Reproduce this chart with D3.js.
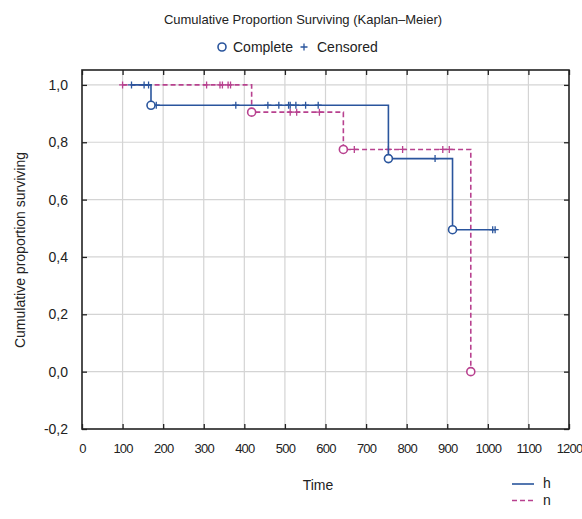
<!DOCTYPE html>
<html>
<head>
<meta charset="utf-8">
<script src="https://cdn.jsdelivr.net/npm/d3@7"></script>
<style>
  body { margin: 0; background: #fff; }
  svg { font-family: "Liberation Sans", Arial, sans-serif; }
</style>
</head>
<body>
<div id="chart"></div>
<script>
// group h (solid blue)
var hStart = 120;
var hEventTimes = [170, 755, 913];
var hEventSurv = [0.929, 0.743, 0.495];
var hCensorTimes = [122, 153, 164, 183, 379, 458, 485, 509, 513, 527, 551, 582, 870, 1012, 1018];

// group n (dashed magenta)
var nStart = 100;
var nEventTimes = [418, 644, 958];
var nEventSurv = [0.905, 0.775, 0.0];
var nCensorTimes = [100, 307, 340, 346, 360, 366, 513, 529, 585, 671, 755, 790, 889, 905];

var xTicks = [0, 100, 200, 300, 400, 500, 600, 700, 800, 900, 1000, 1100, 1200];
var yTicks = [-0.2, 0.0, 0.2, 0.4, 0.6, 0.8, 1.0];
var groupNames = ["h", "n"];
var blue = "#2a559d";
var pink = "#b8418f";

var width = 582, height = 519;
var margin = {top: 70, right: 13, bottom: 90, left: 82};

var svg = d3.select("#chart").append("svg")
    .attr("width", width)
    .attr("height", height);

var xScale = d3.scaleLinear()
    .domain([0, 1200])
    .range([margin.left, width - margin.right]);

var yScale = d3.scaleLinear()
    .domain([-0.2, 1.052])
    .range([height - margin.bottom, margin.top]);

var fmt = function(v) { return d3.format(".1f")(v).replace(".", ",").replace("−", "-"); };

// grid
svg.append("g")
    .selectAll("line")
    .data(xTicks.slice(1, -1))
    .enter().append("line")
    .attr("x1", d => xScale(d)).attr("x2", d => xScale(d))
    .attr("y1", margin.top).attr("y2", height - margin.bottom)
    .attr("stroke", "#d4d4d4").attr("stroke-width", 1.2);

svg.append("g")
    .selectAll("line")
    .data(yTicks.slice(1))
    .enter().append("line")
    .attr("x1", margin.left).attr("x2", width - margin.right)
    .attr("y1", d => yScale(d)).attr("y2", d => yScale(d))
    .attr("stroke", "#d4d4d4").attr("stroke-width", 1.2);

// axes (ticks pointing inward)
var xAxis = d3.axisBottom(xScale).tickValues(xTicks).tickSize(-5).tickPadding(15).tickFormat(d3.format("d"));
var yAxis = d3.axisLeft(yScale).tickValues(yTicks).tickSize(-5).tickPadding(14).tickFormat(fmt);

var gx = svg.append("g")
    .attr("transform", "translate(0," + (height - margin.bottom) + ")")
    .call(xAxis);
var gy = svg.append("g")
    .attr("transform", "translate(" + margin.left + ",0)")
    .call(yAxis);
svg.append("g")
    .attr("transform", "translate(" + (width - margin.right) + ",0)")
    .call(d3.axisRight(yScale).tickValues(yTicks).tickSize(-5).tickFormat(""));
svg.append("g")
    .attr("transform", "translate(0," + margin.top + ")")
    .call(d3.axisTop(xScale).tickValues(xTicks).tickSize(-5).tickFormat(""));

svg.selectAll(".domain").remove();
svg.selectAll(".tick line").attr("stroke", "#222").attr("stroke-width", 1.3);
svg.selectAll(".tick text").attr("fill", "#222");
gx.selectAll(".tick text").attr("font-size", 13).attr("letter-spacing", "-0.8px");
gy.selectAll(".tick text").attr("font-size", 14);

svg.append("rect")
    .attr("x", margin.left).attr("y", margin.top)
    .attr("width", width - margin.left - margin.right)
    .attr("height", height - margin.top - margin.bottom)
    .attr("fill", "none").attr("stroke", "#222").attr("stroke-width", 1.6);

// survival curves
function survAt(t, evT, evS) {
    var s = 1;
    for (var i = 0; i < evT.length; i++) if (evT[i] <= t) s = evS[i];
    return s;
}

function drawGroup(start, evT, evS, cT, color, dash) {
    var end = Math.max(d3.max(cT), d3.max(evT));
    var pts = [[start, 1]];
    evT.forEach((t, i) => pts.push([t, evS[i]]));
    pts.push([end, survAt(end, evT, evS)]);

    var lineGen = d3.line()
        .x(d => xScale(d[0]))
        .y(d => yScale(d[1]))
        .curve(d3.curveStepAfter);

    var g = svg.append("g");
    g.append("path")
        .attr("d", lineGen(pts))
        .attr("fill", "none")
        .attr("stroke", color)
        .attr("stroke-width", 1.6)
        .attr("stroke-dasharray", dash);

    g.selectAll(".cens")
        .data(cT).enter()
        .append("path")
        .attr("d", "M-3.5,0H3.5M0,-3.5V3.5")
        .attr("transform", t => "translate(" + xScale(t) + "," + yScale(survAt(t, evT, evS)) + ")")
        .attr("stroke", color).attr("stroke-width", 1.3);

    g.selectAll(".ev")
        .data(evT).enter()
        .append("circle")
        .attr("cx", t => xScale(t))
        .attr("cy", (t, i) => yScale(evS[i]))
        .attr("r", 4)
        .attr("fill", "#fff")
        .attr("stroke", color).attr("stroke-width", 1.6);
}

drawGroup(nStart, nEventTimes, nEventSurv, nCensorTimes, pink, "5,3");
drawGroup(hStart, hEventTimes, hEventSurv, hCensorTimes, blue, null);

// titles
svg.append("text")
    .attr("x", 303).attr("y", 24)
    .attr("text-anchor", "middle")
    .attr("font-size", 13).attr("fill", "#222")
    .text("Cumulative Proportion Surviving (Kaplan\u2013Meier)");

svg.append("text")
    .attr("x", 318).attr("y", 490)
    .attr("text-anchor", "middle")
    .attr("font-size", 14).attr("fill", "#222")
    .text("Time");

svg.append("text")
    .attr("transform", "rotate(-90)")
    .attr("x", -250).attr("y", 25)
    .attr("text-anchor", "middle")
    .attr("font-size", 14).attr("fill", "#222")
    .text("Cumulative proportion surviving");

// top legend
svg.append("circle")
    .attr("cx", 222).attr("cy", 47).attr("r", 4)
    .attr("fill", "#fff").attr("stroke", blue).attr("stroke-width", 1.6);
svg.append("text")
    .attr("x", 233).attr("y", 52)
    .attr("font-size", 14).attr("fill", "#222")
    .text("Complete");
svg.append("path")
    .attr("d", "M-3.5,0H3.5M0,-3.5V3.5")
    .attr("transform", "translate(304,47)")
    .attr("stroke", blue).attr("stroke-width", 1.3);
svg.append("text")
    .attr("x", 317).attr("y", 52)
    .attr("font-size", 14).attr("fill", "#222")
    .text("Censored");

// bottom legend
var leg = svg.selectAll(".legend")
    .data(groupNames).enter()
    .append("g")
    .attr("transform", (d, i) => "translate(512," + (484 + i * 16.5) + ")");
leg.append("line")
    .attr("x1", 0).attr("x2", 22)
    .attr("stroke", (d, i) => i === 0 ? blue : pink)
    .attr("stroke-width", 1.6)
    .attr("stroke-dasharray", (d, i) => i === 0 ? null : "5,3");
leg.append("text")
    .attr("x", 31).attr("y", 4)
    .attr("font-size", 14).attr("fill", "#222")
    .text(d => d);
</script>
</body>
</html>
